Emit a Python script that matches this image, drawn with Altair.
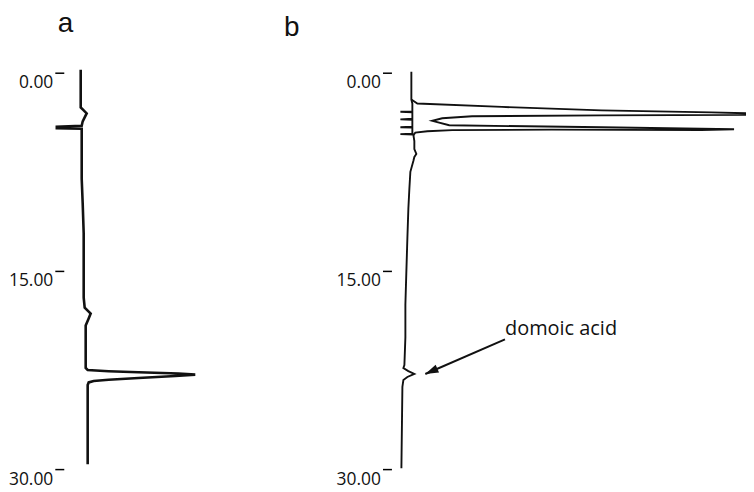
import altair as alt
import pandas as pd

# ---------------- data (retention time in min, detector signal in arbitrary units) -------------
a_time = [-0.22, 2.63, 2.85, 3.08, 3.38, 3.68, 4.01, 4.09, 4.20, 4.24, 8.03, 9.90, 12.15,
          17.03, 17.78, 18.23, 18.60, 19.13, 22.35, 22.50, 22.59, 22.67, 22.77, 22.85,
          22.95, 23.10, 23.24, 23.33, 23.44, 23.63, 29.63]
a_signal = [17, 17, 20, 23, 21, 19, 18, -7, -7, 18, 18, 19, 20,
            20, 21, 27, 25, 22, 22, 24, 45, 75, 115, 132,
            112, 75, 45, 30, 25, 24, 24]

b1_time = [-0.08, 2.03, 2.33, 2.93, 2.96, 3.00, 3.49, 3.53, 3.56, 4.09, 4.13, 4.16,
           4.61, 4.65, 4.69, 5.18, 5.78, 6.15, 6.38, 6.68, 7.50, 8.78, 10.28, 12.53,
           15.00, 17.55, 20.03, 22.13, 22.35, 22.58, 22.80, 23.03, 23.25, 23.78, 29.93]
b1_signal = [20, 20, 21, 21, 9, 21, 21, 9, 21, 21, 9, 21,
             21, 9, 22, 23, 23, 25, 23, 22, 19, 18, 17, 16,
             15, 14, 14, 13, 12, 17, 23, 16, 12, 11, 10]

b2_time = [2.03, 2.33, 2.59, 2.85, 3.00, 3.11, 3.19, 3.23, 3.30, 3.45, 3.64,
           3.98, 4.13, 4.28, 4.35, 4.31, 4.35, 4.43, 4.54, 4.73]
b2_signal = [20, 26, 111, 211, 321, 376, 376, 211, 81, 51, 41,
             58, 211, 344, 311, 161, 61, 36, 24, 22]

tick_values = [0, 15, 30]
annot_text = ["domoic acid"]
annot_time = [19.88]
annot_signal = [114]
arrow_time = [20.18, 22.80]
arrow_signal = [114, 34]

Y_DOMAIN = [-0.3, 30]
H = 402
WA = 221
WB = 356


def y_enc(field="time"):
    return alt.Y(
        f"{field}:Q",
        scale=alt.Scale(domain=Y_DOMAIN, reverse=True, nice=False, zero=False),
        axis=alt.Axis(values=tick_values, format=".2f", title=None, domain=False, grid=False,
                      ticks=True, tickSize=9, tickWidth=1.5, tickColor="black",
                      labelAlign="right", labelBaseline="alphabetic", labelOffset=15,
                      labelPadding=2, labelFontSize=17.5, labelFont="Open Sans",
                      labelColor="#111"),
    )


def xb(field="signal"):
    return alt.X(f"{field}:Q", scale=alt.Scale(domain=[0, WB], nice=False, zero=False),
                 axis=None)


def title(t, dx):
    return alt.TitleParams(t, anchor="start", frame="group", dx=dx, fontSize=28,
                           font="Liberation Sans", fontWeight="normal", color="#111",
                           baseline="alphabetic", offset=5)


dfa = pd.DataFrame({"time": a_time, "signal": a_signal, "idx": list(range(len(a_time)))})
panel_a = alt.Chart(dfa).mark_line(color="#111", strokeWidth=2.6).encode(
    x=alt.X("signal:Q", scale=alt.Scale(domain=[0, WA], nice=False, zero=False), axis=None),
    y=y_enc(),
    order="idx:Q",
).properties(width=WA, height=H, title=title("a", -6))

dfb = pd.concat([
    pd.DataFrame({"time": b1_time, "signal": b1_signal, "trace": "b1",
                  "idx": list(range(len(b1_time)))}),
    pd.DataFrame({"time": b2_time, "signal": b2_signal, "trace": "b2",
                  "idx": list(range(len(b2_time)))}),
])

lines_b = alt.Chart(dfb).mark_line(color="#111", strokeWidth=1.9, clip=True).encode(
    x=xb(), y=y_enc(), detail="trace:N", order="idx:Q")

dfarrow = pd.DataFrame({"s0": [arrow_signal[0]], "s1": [arrow_signal[1]],
                        "t0": [arrow_time[0]], "t1": [arrow_time[1]]})
arrow_line = alt.Chart(dfarrow).mark_rule(color="#111", strokeWidth=2).encode(
    x=xb("s0"), x2="s1:Q", y=y_enc("t0"), y2="t1:Q")
dfhead = pd.DataFrame({"signal": [arrow_signal[1]], "time": [arrow_time[1]]})
arrow_head = alt.Chart(dfhead).mark_point(
    shape="M0,0 L0.32,1 L-0.32,1 Z", filled=True, color="#111", size=700, angle=246,
    opacity=1, strokeWidth=0).encode(x=xb(), y=y_enc())
dftext = pd.DataFrame({"signal": annot_signal, "time": annot_time, "label": annot_text})
annot = alt.Chart(dftext).mark_text(align="left", baseline="alphabetic", fontSize=20,
                                    font="Open Sans", color="#111").encode(
    x=xb(), y=y_enc(), text="label:N")

panel_b = alt.layer(lines_b, arrow_line, arrow_head, annot).properties(
    width=WB, height=H, title=title("b", -108))

chart = alt.hconcat(panel_a, panel_b, spacing=0).properties(
    padding=0, background="white").configure_view(stroke=None)

chart.save("out.html", embed_options={"renderer": "svg", "actions": False})
